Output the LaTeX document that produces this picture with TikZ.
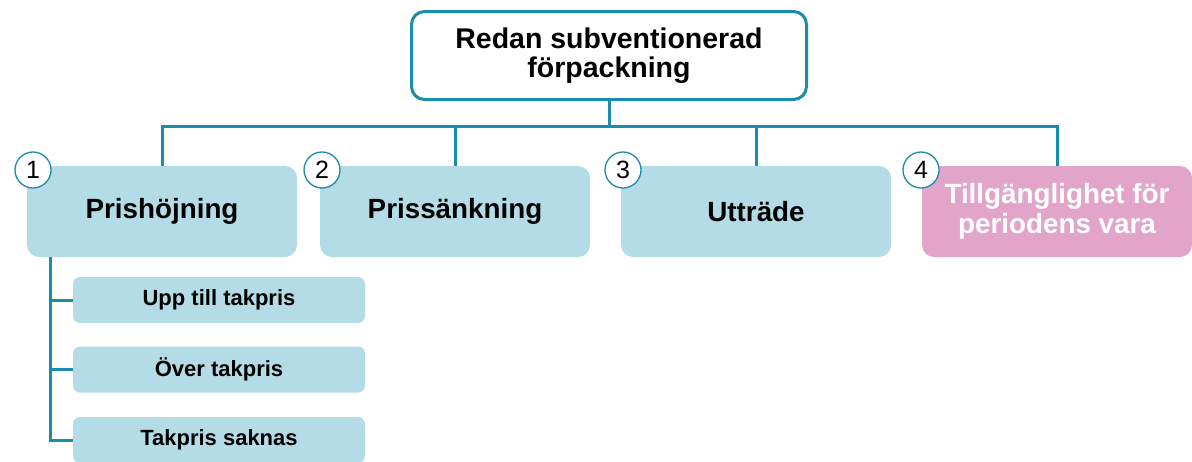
\documentclass[tikz,border=0pt]{standalone}
\usepackage{fontspec}
\setmainfont{Liberation Sans}
\definecolor{teal1}{HTML}{1A8CAE}
\definecolor{lblue}{HTML}{B4DCE6}
\definecolor{pink1}{HTML}{E3A4CA}
\tikzset{
  topbox/.style={draw=teal1, line width=3pt, rounded corners=13pt, fill=white,
    minimum width=395pt, minimum height=88pt, align=center,
    font=\fontsize{28.5}{29.5}\selectfont\bfseries},
  catbox/.style={fill=lblue, rounded corners=12pt, minimum width=270pt,
    minimum height=91pt, align=center, font=\fontsize{27.8}{29.5}\selectfont\bfseries},
  subbox/.style={fill=lblue, rounded corners=7pt, minimum width=292pt,
    minimum height=46pt, font=\fontsize{22}{24}\selectfont\bfseries},
  numdot/.style={circle, draw=teal1, line width=1.3pt, fill=white,
    minimum size=36pt, inner sep=0pt, font=\fontsize{25}{25}\selectfont},
  link/.style={draw=teal1, line width=3pt}
}
\begin{document}
\begin{tikzpicture}[x=1pt, y=-1pt]
\useasboundingbox (0,0) rectangle (1192,461);
\node[topbox] (top) at (609,55.5){Redan subventionerad\\förpackning};
\node[catbox] (cat1) at (162,211.5){Prishöjning};
\node[catbox] (cat2) at (455,211.5){Prissänkning};
\node[catbox] (cat3) at (756,211.5){Utträde};
\node[catbox, fill=pink1, text=white] (cat4) at (1057,211.5){Tillgänglighet för\\periodens vara};
\coordinate (hub) at (609,126);
\draw[link] (top.south) -- (hub) -| (cat1.north);
\draw[link] (hub) -| (cat2.north);
\draw[link] (hub) -| (cat3.north);
\draw[link] (hub) -| (cat4.north);
\node[numdot] (num1) at (33,170){1};
\node[numdot] (num2) at (322,170){2};
\node[numdot] (num3) at (623,170){3};
\node[numdot] (num4) at (921,170){4};
% underkategorier
\node[subbox] (sub1) at (219,300){Upp till takpris};
\node[subbox] (sub2) at (219,369.5){Över takpris};
\node[subbox] (sub3) at (219,440){Takpris saknas};
\coordinate (spine) at (50,257);
\draw[link] (spine) |- (sub3.west);
\draw[link] (spine) |- (sub1.west);
\draw[link] (spine) |- (sub2.west);
\end{tikzpicture}
\end{document}
